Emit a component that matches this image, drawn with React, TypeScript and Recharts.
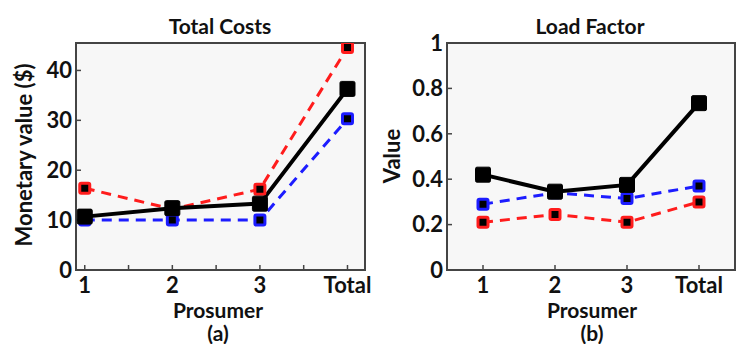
import { LineChart, Line, XAxis, YAxis, CartesianGrid } from "recharts";

const prosumers = [1, 2, 3, 4];
const prosumerLabels = ["1", "2", "3", "Total"];

// Total Costs ($)
const costRed = [16.4, 12.2, 16.2, 44.6];
const costBlue = [10, 10, 10, 30.3];
const costBlack = [10.7, 12.4, 13.3, 36.3];
const costTicks = [0, 10, 20, 30, 40];

// Load Factor
const lfRed = [0.21, 0.245, 0.21, 0.3];
const lfBlue = [0.29, 0.34, 0.315, 0.37];
const lfBlack = [0.42, 0.345, 0.375, 0.735];
const lfTicks = [0, 0.2, 0.4, 0.6, 0.8, 1];

const FONT = "Lato, 'Open Sans', sans-serif";
const RED = "#ff1c1c";
const BLUE = "#1c1cff";
const AXIS = "#444";

const square = (size: number, stroke: string, sw: number) => (p: any) => (
  <rect
    key={`sq-${p.index}`}
    x={p.cx - size / 2}
    y={p.cy - size / 2}
    width={size}
    height={size}
    rx={1.5}
    fill="#000"
    stroke={stroke}
    strokeWidth={sw}
  />
);

const tickLabel = (v: number) => {
  const i = prosumers.indexOf(v);
  return i >= 0 ? prosumerLabels[i] : "";
};

type PanelProps = {
  red: number[];
  blue: number[];
  black: number[];
  yTicks: number[];
  yMax: number;
  xDomain: [number, number];
  xTicks: number[];
  plot: { left: number; top: number; right: number; bottom: number };
  width: number;
};

const tickStyle = { fill: "#111", fontSize: 22, fontWeight: 700, fontFamily: FONT };

// plot = pixel box of the axes inside this panel's svg
const Panel = ({ red, blue, black, yTicks, yMax, xDomain, xTicks, plot, width }: PanelProps) => {
  const data = prosumers.map((p, i) => ({ p, red: red[i], blue: blue[i], black: black[i] }));
  const margin = {
    top: plot.top,
    left: plot.left - 40,
    right: width - plot.right,
    bottom: 344 - plot.bottom - 30,
  };
  return (
    <div style={{ position: "relative", width, height: 344 }}>
      {/* axes frame, under the chart so the lines sit on top of it */}
      <div
        style={{
          position: "absolute",
          left: plot.left - 1,
          top: plot.top - 1,
          width: plot.right - plot.left + 2,
          height: plot.bottom - plot.top + 2,
          border: `2px solid ${AXIS}`,
          background: "#f7f7f7",
          boxSizing: "border-box",
        }}
      />
      <div style={{ position: "absolute", left: 0, top: 0 }}>
        <LineChart width={width} height={344} data={data} margin={margin}>
          <XAxis
            dataKey="p"
            type="number"
            domain={xDomain}
            ticks={xTicks}
            tickFormatter={tickLabel}
            height={30}
            tickSize={-5}
            tickMargin={12}
            interval={0}
            tick={tickStyle}
            axisLine={{ stroke: AXIS, strokeWidth: 2 }}
            tickLine={{ stroke: AXIS, strokeWidth: 1.5 }}
            allowDataOverflow
          />
          <YAxis
            type="number"
            domain={[0, yMax]}
            ticks={yTicks}
            width={40}
            tickSize={-5}
            tickMargin={9}
            interval={0}
            tick={tickStyle}
            axisLine={{ stroke: AXIS, strokeWidth: 2 }}
            tickLine={{ stroke: AXIS, strokeWidth: 1.5 }}
            allowDataOverflow
          />
          <Line
            dataKey="red"
            stroke={RED}
            strokeWidth={3}
            strokeDasharray="10 7"
            dot={square(10, RED, 3)}
            isAnimationActive={false}
          />
          <Line
            dataKey="blue"
            stroke={BLUE}
            strokeWidth={3}
            strokeDasharray="10 7"
            dot={square(10, BLUE, 3)}
            isAnimationActive={false}
          />
          <Line
            dataKey="black"
            stroke="#000"
            strokeWidth={4}
            dot={square(15, "#000", 1)}
            isAnimationActive={false}
          />
        </LineChart>
      </div>
    </div>
  );
};

const text = (content: string, left: number, top: number, size = 20, rotate = false) => (
  <div
    style={{
      position: "absolute",
      left,
      top,
      transform: `translate(-50%, -50%)${rotate ? " rotate(-90deg)" : ""}`,
      fontFamily: FONT,
      fontWeight: 700,
      fontSize: size,
      color: "#111",
      whiteSpace: "nowrap",
      lineHeight: 1,
    }}
  >
    {content}
  </div>
);

export default function App() {
  return (
    <div style={{ position: "fixed", left: 0, top: 0, width: 737, height: 344, background: "#fff", overflow: "hidden" }}>
      <div style={{ position: "absolute", left: 0, top: 0 }}>
        <Panel
          red={costRed}
          blue={costBlue}
          black={costBlack}
          yTicks={costTicks}
          yMax={45.5}
          xDomain={[0.9, 4.2]}
          xTicks={[1, 1.5, 2, 2.5, 3, 3.5, 4]}
          plot={{ left: 76, top: 43, right: 365, bottom: 270 }}
          width={380}
        />
      </div>
      <div style={{ position: "absolute", left: 370, top: 0 }}>
        <Panel
          red={lfRed}
          blue={lfBlue}
          black={lfBlack}
          yTicks={lfTicks}
          yMax={1}
          xDomain={[0.5, 4.5]}
          xTicks={[1, 2, 3, 4]}
          plot={{ left: 77, top: 43, right: 365, bottom: 270 }}
          width={367}
        />
      </div>
      {text("Total Costs", 220, 25, 21)}
      {text("Monetary value ($)", 24, 155, 22, true)}
      {text("Prosumer", 218, 309, 21)}
      {text("(a)", 218, 332, 21)}
      {text("Load Factor", 590, 25, 21)}
      {text("Value", 392, 156, 22, true)}
      {text("Prosumer", 592, 309, 21)}
      {text("(b)", 592, 332, 21)}
    </div>
  );
}
